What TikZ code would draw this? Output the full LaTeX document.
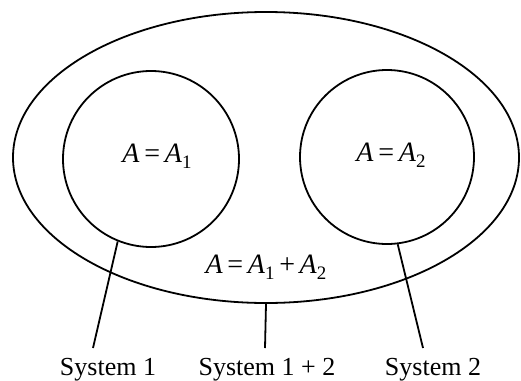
\documentclass[tikz,border=0pt]{standalone}
\usepackage{fontspec}
\setmainfont{Liberation Serif}
\usetikzlibrary{shapes.geometric}
\newcommand\formsub[1]{\raisebox{-0.45ex}{\fontsize{19}{20}\selectfont #1}}
\tikzset{
  outline/.style={draw=black, line width=1.8pt, inner sep=0pt},
  conn/.style={draw=black, line width=1.8pt},
  formula/.style={font=\fontsize{28}{32}\selectfont, inner sep=0pt},
  syslabel/.style={font=\fontsize{26}{30}\selectfont, inner sep=0pt, anchor=base}
}
\begin{document}
\begin{tikzpicture}[x=1pt,y=1pt]
\useasboundingbox (0,0) rectangle (521,-380);
\node[outline, ellipse, minimum width=506pt, minimum height=291pt] (all) at (266,-157.5) {};
\node[outline, circle, minimum size=176pt] (c1) at (151,-159) {};
\node[outline, circle, minimum size=174pt] (c2) at (387,-157) {};
\node[formula] (f1) at (157,-156) {\textit{A}\,=\,\textit{A}\formsub{1}};
\node[formula] (f2) at (391,-155) {\textit{A}\,=\,\textit{A}\formsub{2}};
\node[formula] (f3) at (266,-267) {\textit{A}\,=\,\textit{A}\formsub{1}\,+\,\textit{A}\formsub{2}};
\node[syslabel] (s1) at (108,-375) {System 1};
\node[syslabel] (s12) at (267,-375) {System 1 + 2};
\node[syslabel] (s2) at (433,-375) {System 2};
\coordinate (e1) at (93,-348);
\coordinate (e12) at (265,-348);
\coordinate (e2) at (423,-348);
\draw[conn] (c1.-112) -- (e1);
\draw[conn] (all.-90) -- (e12);
\draw[conn] (c2.-83) -- (e2);
\end{tikzpicture}
\end{document}
